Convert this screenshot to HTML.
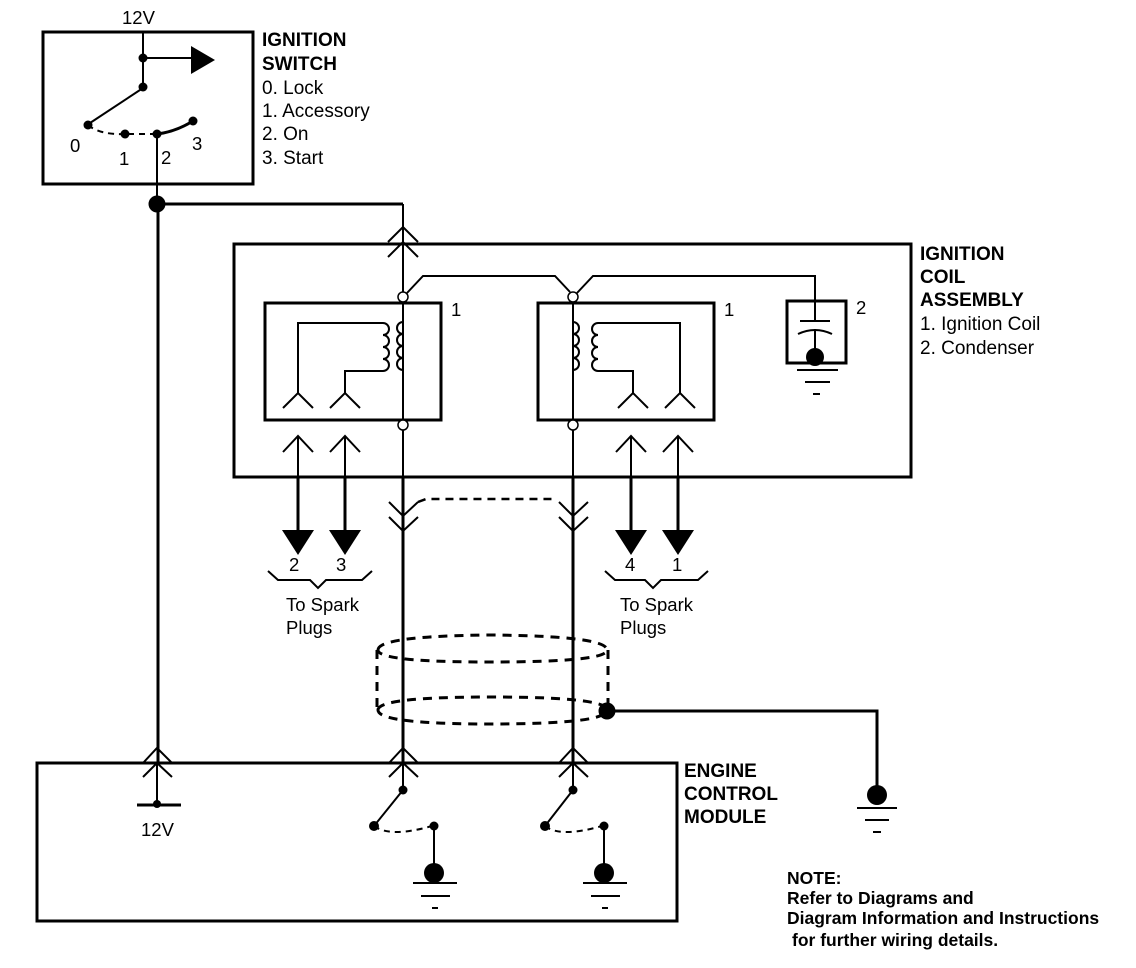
<!DOCTYPE html>
<html><head><meta charset="utf-8"><style>
html,body{margin:0;padding:0;background:#fff;}
svg{display:block;}
text{font-family:"Liberation Sans",sans-serif;fill:#000;}
.b{font-weight:bold;}
</style></head><body>
<svg width="1136" height="968" viewBox="0 0 1136 968" xmlns="http://www.w3.org/2000/svg">
<g fill="none" stroke="#000" stroke-width="2">
<rect x="43" y="32" width="210" height="152" stroke-width="3"/>
<line x1="143" y1="32" x2="143" y2="88"/>
<line x1="143" y1="58" x2="192" y2="58"/>
<line x1="143" y1="88" x2="90" y2="123"/>
<path d="M88 125 Q 100 135 125 134" stroke-dasharray="6,5"/>
<line x1="128" y1="134" x2="155" y2="134" stroke-dasharray="6,5"/>
<path d="M157 134 Q 175 132 193 121" stroke-width="3"/>
<line x1="157" y1="134" x2="157" y2="204"/>
<line x1="158" y1="204" x2="158" y2="762" stroke-width="3"/>
<line x1="157" y1="204" x2="403" y2="204" stroke-width="3"/>
<line x1="403" y1="204" x2="403" y2="292"/>
<polyline points="388,242 403,227 418,242"/>
<polyline points="388,257 403,242 418,257"/>
<rect x="234" y="244" width="677" height="233" stroke-width="3"/>
<rect x="265" y="303" width="176" height="117" stroke-width="3"/>
<rect x="538" y="303" width="176" height="117" stroke-width="3"/>
<polyline points="407,293 423,276 555,276 570,292"/>
<polyline points="577,293 593,276 815,276 815,300"/>
<line x1="403" y1="302" x2="403" y2="420"/>
<line x1="573" y1="302" x2="573" y2="420"/>
<line x1="403" y1="430" x2="403" y2="477"/>
<line x1="573" y1="430" x2="573" y2="477"/>
<path d="M403 322 a6 6 0 0 0 0 12 a6 6 0 0 0 0 12 a6 6 0 0 0 0 12 a6 6 0 0 0 0 12"/>
<path d="M383 323 a6 6 0 0 1 0 12 a6 6 0 0 1 0 12 a6 6 0 0 1 0 12 a6 6 0 0 1 0 12"/>
<polyline points="383,323 298,323 298,393"/>
<polyline points="383,371 345,371 345,393"/>
<polyline points="283,408 298,393 313,408"/>
<polyline points="330,408 345,393 360,408"/>
<path d="M573 322 a6 6 0 0 1 0 12 a6 6 0 0 1 0 12 a6 6 0 0 1 0 12 a6 6 0 0 1 0 12"/>
<path d="M598 323 a6 6 0 0 0 0 12 a6 6 0 0 0 0 12 a6 6 0 0 0 0 12 a6 6 0 0 0 0 12"/>
<polyline points="598,323 680,323 680,393"/>
<polyline points="598,371 633,371 633,393"/>
<polyline points="618,408 633,393 648,408"/>
<polyline points="665,408 680,393 695,408"/>
<rect x="787" y="301" width="59" height="62" stroke-width="3"/>
<line x1="815" y1="300" x2="815" y2="321"/>
<line x1="800" y1="321" x2="830" y2="321"/>
<path d="M798 334 Q815 326 832 334"/>
<line x1="815" y1="329" x2="815" y2="355"/>
<line x1="797" y1="370" x2="838" y2="370"/>
<line x1="805" y1="382" x2="830" y2="382"/>
<line x1="813" y1="394" x2="820" y2="394"/>
<polyline points="283,452 298,436 313,452"/><line x1="298" y1="436" x2="298" y2="477"/>
<polyline points="330,452 345,436 360,452"/><line x1="345" y1="436" x2="345" y2="477"/>
<polyline points="616,452 631,436 646,452"/><line x1="631" y1="436" x2="631" y2="477"/>
<polyline points="663,452 678,436 693,452"/><line x1="678" y1="436" x2="678" y2="477"/>
<g stroke-width="3">
<line x1="298" y1="477" x2="298" y2="532"/><line x1="345" y1="477" x2="345" y2="532"/>
<line x1="631" y1="477" x2="631" y2="532"/><line x1="678" y1="477" x2="678" y2="532"/>
</g>
<path d="M268 571 L278 580 L310 580 L318 588 L326 580 L362 580 L372 571"/>
<path d="M605 571 L615 580 L645 580 L653 588 L661 580 L698 580 L708 571"/>
<line x1="403" y1="477" x2="403" y2="762" stroke-width="3"/>
<line x1="573" y1="477" x2="573" y2="762" stroke-width="3"/>
<polyline points="389,502 403,516 418,502"/>
<polyline points="389,517 403,531 418,517"/>
<polyline points="559,502 573,516 588,502"/>
<polyline points="559,517 573,531 588,517"/>
<polyline points="418,502 426,499 557,499" stroke-dasharray="8,6" stroke-width="2.5"/>
<g stroke-dasharray="9,7" stroke-width="3">
<path d="M378 650 Q378 636 490 635 Q607 636 607 650 Q607 662 490 662 Q378 662 378 650"/>
<path d="M378 710 Q378 697 490 697 Q607 697 607 710 Q607 724 490 724 Q378 724 378 710"/>
<line x1="377" y1="650" x2="377" y2="710"/>
<line x1="608" y1="650" x2="608" y2="705"/>
</g>
<polyline points="607,711 877,711 877,795" stroke-width="3"/>
<line x1="857" y1="808" x2="897" y2="808"/>
<line x1="865" y1="820" x2="889" y2="820"/>
<line x1="873" y1="832" x2="881" y2="832"/>
<rect x="37" y="763" width="640" height="158" stroke-width="3"/>
<polyline points="143,763 157,748 172,763"/>
<polyline points="143,777 157,763 172,777"/>
<line x1="157" y1="763" x2="157" y2="805"/>
<line x1="137" y1="805" x2="181" y2="805" stroke-width="3"/>
<polyline points="389,763 403,748 418,763"/>
<polyline points="389,777 403,763 418,777"/>
<polyline points="559,763 573,748 588,763"/>
<polyline points="559,777 573,763 588,777"/>
<line x1="403" y1="763" x2="403" y2="790"/>
<line x1="403" y1="790" x2="374" y2="826"/>
<path d="M374 826 Q390 838 432 826" stroke-dasharray="6,5"/>
<line x1="434" y1="826" x2="434" y2="873"/>
<line x1="413" y1="883" x2="457" y2="883"/>
<line x1="421" y1="896" x2="450" y2="896"/>
<line x1="432" y1="908" x2="438" y2="908"/>
<line x1="573" y1="763" x2="573" y2="790"/>
<line x1="573" y1="790" x2="545" y2="826"/>
<path d="M545 826 Q560 838 602 826" stroke-dasharray="6,5"/>
<line x1="604" y1="826" x2="604" y2="873"/>
<line x1="583" y1="883" x2="627" y2="883"/>
<line x1="591" y1="896" x2="620" y2="896"/>
<line x1="602" y1="908" x2="608" y2="908"/>
</g>
<g fill="#000" stroke="none">
<polygon points="191,46 215,60 191,74"/>
<circle cx="143" cy="58" r="4.5"/><circle cx="143" cy="87" r="4.5"/>
<circle cx="88" cy="125" r="4.5"/><circle cx="125" cy="134" r="4.5"/>
<circle cx="157" cy="134" r="4.5"/><circle cx="193" cy="121" r="4.5"/>
<circle cx="157" cy="204" r="8.5"/>
<circle cx="815" cy="357" r="9"/>
<polygon points="282,530 314,530 298,555"/><polygon points="329,530 361,530 345,555"/>
<polygon points="615,530 647,530 631,555"/><polygon points="662,530 694,530 678,555"/>
<circle cx="607" cy="711" r="8.5"/>
<circle cx="877" cy="795" r="10"/>
<circle cx="157" cy="804" r="4"/>
<circle cx="403" cy="790" r="4.5"/><circle cx="374" cy="826" r="5"/><circle cx="434" cy="826" r="4.5"/>
<circle cx="434" cy="873" r="10"/>
<circle cx="573" cy="790" r="4.5"/><circle cx="545" cy="826" r="5"/><circle cx="604" cy="826" r="4.5"/>
<circle cx="604" cy="873" r="10"/>
</g>
<g fill="#fff" stroke="#000" stroke-width="1.5">
<circle cx="403" cy="297" r="5"/><circle cx="403" cy="425" r="5"/>
<circle cx="573" cy="297" r="5"/><circle cx="573" cy="425" r="5"/>
</g>
<g font-size="18.5">
<text x="122" y="24">12V</text>
<text x="70" y="152">0</text><text x="119" y="165">1</text><text x="161" y="164">2</text><text x="192" y="150">3</text>
<text x="451" y="316">1</text><text x="724" y="316">1</text><text x="856" y="314">2</text>
<text x="289" y="571">2</text><text x="336" y="571">3</text><text x="625" y="571">4</text><text x="672" y="571">1</text>
<text x="286" y="611">To Spark</text><text x="286" y="634">Plugs</text>
<text x="620" y="611">To Spark</text><text x="620" y="634">Plugs</text>
<text x="141" y="836">12V</text>
</g>
<g font-size="19">
<text x="262" y="46" class="b">IGNITION</text>
<text x="262" y="70" class="b">SWITCH</text>
<text x="262" y="94">0. Lock</text>
<text x="262" y="117">1. Accessory</text>
<text x="262" y="140">2. On</text>
<text x="262" y="164">3. Start</text>
<text x="920" y="260" class="b">IGNITION</text>
<text x="920" y="283" class="b">COIL</text>
<text x="920" y="306" class="b">ASSEMBLY</text>
<text x="920" y="330">1. Ignition Coil</text>
<text x="920" y="354">2. Condenser</text>
<text x="684" y="777" class="b">ENGINE</text>
<text x="684" y="800" class="b">CONTROL</text>
<text x="684" y="823" class="b">MODULE</text>
</g>
<g font-size="17.5" font-weight="bold">
<text x="787" y="884">NOTE:</text>
<text x="787" y="904">Refer to Diagrams and</text>
<text x="787" y="924">Diagram Information and Instructions</text>
<text x="792" y="946">for further wiring details.</text>
</g>
</svg>
</body></html>
